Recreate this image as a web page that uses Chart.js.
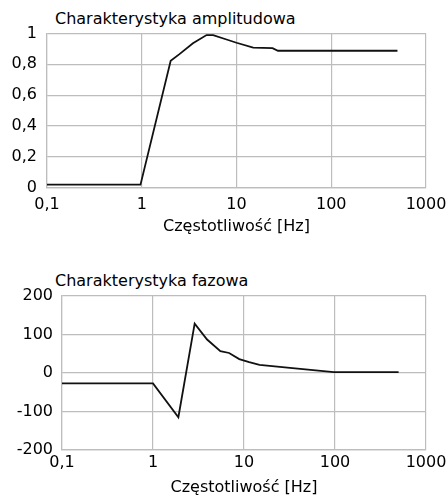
<!DOCTYPE html>
<html>
<head>
<meta charset="utf-8">
<script src="https://cdn.jsdelivr.net/npm/chart.js@4.4.0/dist/chart.umd.min.js"></script>
<style>
  body { margin:0; background:#fff; width:446px; height:497px; position:relative; overflow:hidden; font-family:"DejaVu Sans", sans-serif; }
  .ttl { position:absolute; left:55px; font-size:16px; line-height:19px; color:#000; white-space:nowrap; }
  canvas { position:absolute; left:0; }
</style>
</head>
<body>
<div class="ttl" style="top:9px">Charakterystyka amplitudowa</div>
<canvas id="amp" width="446" height="236" style="top:0"></canvas>
<div class="ttl" style="top:271px">Charakterystyka fazowa</div>
<canvas id="faza" width="446" height="247" style="top:250px"></canvas>
<script>
// czestotliwosci i wartosci
const ampFreq = [0.1, 0.97, 2.02, 2.5, 3.47, 4.83, 5.67, 7.85, 10, 15, 24, 27.4, 500];
const ampVal  = [0.02, 0.02, 0.823, 0.866, 0.937, 0.99, 0.99, 0.961, 0.94, 0.909, 0.905, 0.888, 0.888];

const fazaFreq = [0.1, 1, 1.9, 2.87, 3.93, 5.5, 6.86, 8.87, 11.4, 14.8, 32, 97, 500];
const fazaVal  = [-27, -27, -115, 128, 87, 57, 52, 36, 28, 21, 13.5, 2.5, 2.5];

const xTicks = [0.1, 1, 10, 100, 1000];
const xTitle = 'Częstotliwość [Hz]';

Chart.defaults.font.family = '"DejaVu Sans", sans-serif';
Chart.defaults.font.size = 16;
Chart.defaults.color = '#000';

const gridCol = '#bdbdbd';

function fmt(v){
  return String(Number(v.toFixed(2))).replace('.', ',');
}

function points(xs, ys){
  return xs.map((x, i) => ({x: x, y: ys[i]}));
}

function makeChart(id, xs, ys, yMin, yMax, yStep, opts){
  return new Chart(document.getElementById(id).getContext('2d'), {
    type: 'line',
    data: {
      datasets: [{
        data: points(xs, ys),
        borderColor: '#111',
        borderWidth: 1.8,
        pointRadius: 0,
        tension: 0,
        fill: false
      }]
    },
    options: {
      responsive: false,
      animation: false,
      layout: { padding: { top: opts.top, left: 0, right: 0, bottom: 0 } },
      plugins: { legend: { display: false }, tooltip: { enabled: false } },
      scales: {
        x: {
          type: 'logarithmic',
          min: 0.1,
          max: 1000,
          afterBuildTicks: (s) => { s.ticks = xTicks.map(v => ({value: v})); },
          afterFit: (s) => { s.height = opts.xH; s.paddingRight = 20; },
          ticks: { callback: (v) => fmt(v), padding: opts.xPad, maxRotation: 0, autoSkip: false },
          grid: { color: gridCol, lineWidth: 1.2, drawTicks: false },
          border: { color: gridCol, width: 1.2 },
          title: { display: true, text: xTitle, padding: { top: 0, bottom: 0 } }
        },
        y: {
          min: yMin,
          max: yMax,
          afterFit: (s) => { s.width = opts.yW; },
          ticks: { stepSize: yStep, callback: (v) => fmt(v), padding: opts.yPad },
          grid: { color: gridCol, lineWidth: 1.2, drawTicks: false },
          border: { color: gridCol, width: 1.2 }
        }
      }
    }
  });
}

makeChart('amp', ampFreq, ampVal, 0, 1, 0.2, { top: 33.5, yW: 47, xH: 48.3, xPad: 8, yPad: 10 });
makeChart('faza', fazaFreq, fazaVal, -200, 200, 100, { top: 46, yW: 62, xH: 47, xPad: 3, yPad: 9 });
</script>
</body>
</html>
